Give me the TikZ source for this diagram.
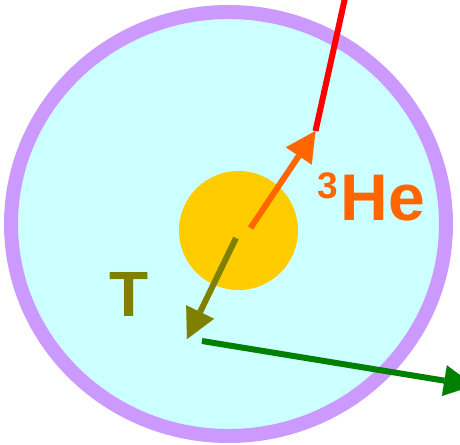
\documentclass[tikz,border=0pt]{standalone}
\usepackage{fontspec}
\setmainfont{Liberation Sans}
\usetikzlibrary{arrows.meta}
\definecolor{ringpurple}{HTML}{CC99FF}
\definecolor{cellcyan}{HTML}{CCFFFF}
\definecolor{coreyellow}{HTML}{FFCC00}
\definecolor{heorange}{HTML}{FF6600}
\definecolor{tolive}{HTML}{808000}
\definecolor{pgreen}{HTML}{008000}
\tikzset{
  track/.style={line width=6pt, line cap=butt},
  bigtip/.style={-{Triangle[length=30pt,width=31pt,line width=0.01pt]}},
  lbl/.style={inner sep=0pt, anchor=base west, font=\bfseries}
}
\begin{document}
\begin{tikzpicture}[x=1pt,y=-1pt]
\useasboundingbox (0,0) rectangle (460,444);
% outer shell
\draw[ringpurple, fill=cellcyan, line width=14pt] (228.5,224) ellipse [x radius=217.5, y radius=212];
% nucleus
\node[circle, fill=coreyellow, minimum size=119pt, inner sep=0pt] (core) at (238.5,230.5) {};
% coordinates
\coordinate (redtop) at (345,-2);
\coordinate (redend) at (315.5,131);
\coordinate (hetail) at (250.5,228);
\coordinate (tail) at (236,238);
\coordinate (ttip) at (187,339);
\coordinate (gstart) at (202,341);
\coordinate (gtip) at (474,385.5);
% tracks
\draw[track, red] (redtop) -- (redend);
\draw[track, heorange, bigtip] (hetail) -- (redend);
\draw[track, tolive, bigtip] (tail) -- (ttip);
\draw[track, pgreen, bigtip] (gstart) -- (gtip);
% labels
\node[lbl, text=heorange] (he) at (317,220) {\raisebox{22pt}{\fontsize{37}{37}\selectfont 3}\kern3pt\fontsize{66}{66}\selectfont He};
\node[lbl, text=tolive] (tlabel) at (109.5,316) {\fontsize{64}{64}\selectfont T};
\end{tikzpicture}
\end{document}
